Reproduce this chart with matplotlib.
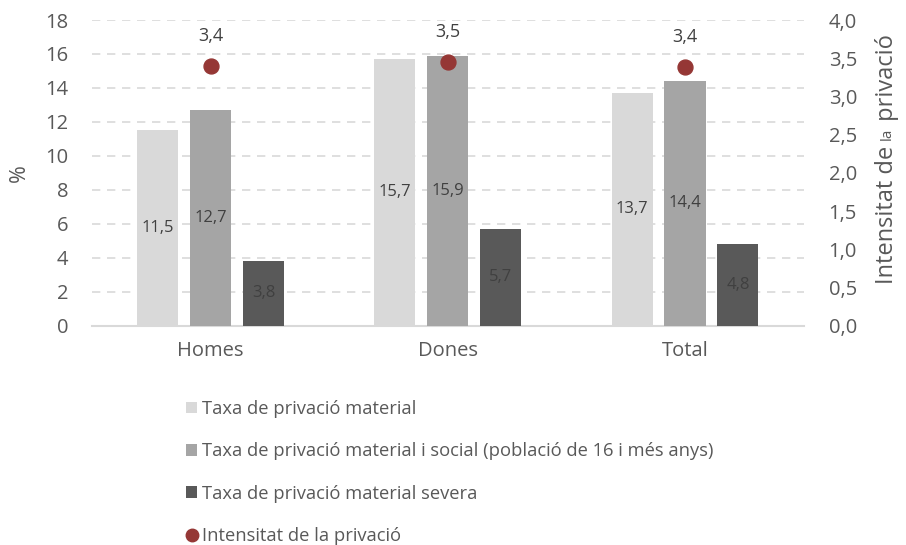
import matplotlib
matplotlib.use("Agg")
import matplotlib.pyplot as plt
from matplotlib.patches import Patch
from matplotlib.lines import Line2D
import numpy as np

categories = ["Homes", "Dones", "Total"]
taxa_material = [11.5, 15.7, 13.7]
taxa_material_social = [12.7, 15.9, 14.4]
taxa_severa = [3.8, 5.7, 4.8]
intensitat = [3.40, 3.45, 3.39]
left_ticks = [0, 2, 4, 6, 8, 10, 12, 14, 16, 18]
right_ticks = [0.0, 0.5, 1.0, 1.5, 2.0, 2.5, 3.0, 3.5, 4.0]
series_names = ["Taxa de privació material",
                "Taxa de privació material i social (població de 16 i més anys)",
                "Taxa de privació material severa",
                "Intensitat de la privació"]

FONT = "Open Sans"
TXT = "#595959"
c_light, c_mid, c_dark, c_dot = "#D9D9D9", "#A5A5A5", "#595959", "#953735"

fig = plt.figure(figsize=(9.06, 5.45), dpi=100)
ax = fig.add_axes([0.1015, 0.4024, 0.7855, 0.5609])
ax2 = ax.twinx()

x = np.arange(len(categories))
w = 0.173
off = 0.223
series = [(taxa_material, c_light, -off), (taxa_material_social, c_mid, 0.0), (taxa_severa, c_dark, off)]
for vals, col, o in series:
    bars = ax.bar(x + o, vals, width=w, color=col, zorder=3)
    for b, v in zip(bars, vals):
        ax.text(b.get_x() + b.get_width() / 2, v / 2, f"{v:.1f}".replace(".", ","),
                ha="center", va="center", fontsize=12, color="#404040",
                family=FONT, zorder=4)

ax.set_xlim(-0.5, 2.5)
ax.set_ylim(0, 18)
ax.set_yticks(left_ticks)
ax.set_yticklabels([str(t) for t in left_ticks], family=FONT, fontsize=14.5, color=TXT)
ax.set_xticks(x)
ax.set_xticklabels(categories, family=FONT, fontsize=14.5, color=TXT)
ax.tick_params(axis="both", length=0)
ax.tick_params(axis="y", pad=17)
ax.tick_params(axis="x", pad=11)
ax.grid(axis="y", color="#D9D9D9", linestyle=(0, (5, 4)), linewidth=1.2, zorder=0)
ax.set_axisbelow(True)
for s in ["top", "right", "left"]:
    ax.spines[s].set_visible(False)
ax.spines["bottom"].set_color("#D9D9D9")
ax.spines["bottom"].set_linewidth(1.5)
ax.set_ylabel("%", family=FONT, fontsize=15.5, color=TXT, labelpad=11)

ax2.scatter(x, intensitat, s=115, color=c_dot, zorder=5)
for xi, v in zip(x, intensitat):
    ax2.annotate(f"{v:.1f}".replace(".", ","), (xi, v), xytext=(0, 15),
                 textcoords="offset points", ha="center", va="bottom",
                 fontsize=13, color="#404040", family=FONT)
ax2.set_ylim(0, 4)
ax2.set_yticks(right_ticks)
ax2.set_yticklabels([f"{t:.1f}".replace(".", ",") for t in right_ticks],
                    family=FONT, fontsize=14.5, color=TXT)
ax2.tick_params(axis="y", length=0, pad=18)
for s in ["top", "right", "left", "bottom"]:
    ax2.spines[s].set_visible(False)

# right axis label with smaller "la"
fig.canvas.draw()
r = fig.canvas.get_renderer()
parts = [("Intensitat de ", 17), ("la", 11), (" privació", 17)]
xpix = 887
ypix_bottom = 545 - 284
cur = ypix_bottom
for txt, fs in parts:
    t = fig.text(xpix / 906, cur / 545, txt, rotation=90, ha="left", va="center",
                 fontsize=fs, family=FONT, color=TXT, rotation_mode="anchor")
    bb = t.get_window_extent(r)
    cur += bb.height

handles = [Patch(facecolor=c_light), Patch(facecolor=c_mid), Patch(facecolor=c_dark),
           Line2D([], [], marker="o", linestyle="none", color=c_dot, markersize=9)]
leg = fig.legend(handles, series_names, loc="upper left", bbox_to_anchor=(186 / 906, 1 - 400 / 545),
                 frameon=False, prop={"family": FONT, "size": 13.2}, labelcolor=TXT,
                 handlelength=0.62, handleheight=0.62, handletextpad=0.25, labelspacing=1.33,
                 borderaxespad=0, borderpad=0)

fig.savefig("out.png", dpi=100)
